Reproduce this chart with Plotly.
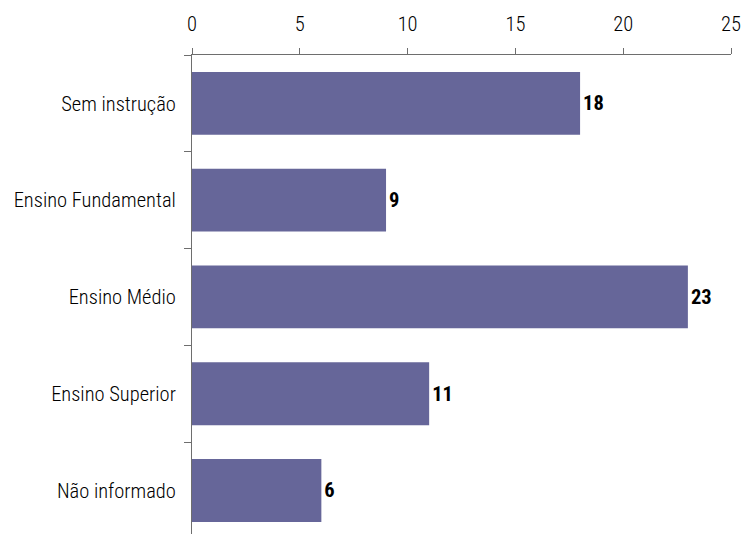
import plotly.graph_objects as go

# Nível de escolaridade
categories = ["Sem instrução", "Ensino Fundamental", "Ensino Médio", "Ensino Superior", "Não informado"]
values = [18, 9, 23, 11, 6]
x_ticks = [0, 5, 10, 15, 20, 25]

FONT = "Roboto Condensed, Archivo Narrow, Liberation Sans, sans-serif"
FONT_SIZE = 20.5
BAR_COLOR = "#666699"
AXIS_COLOR = "#6e6e6e"

fig = go.Figure(
    go.Bar(
        x=values,
        y=categories,
        orientation="h",
        marker=dict(color=BAR_COLOR, line=dict(width=0)),
        text=[f"<b>{v}</b>" for v in values],
        textposition="outside",
        textfont=dict(family=FONT, size=FONT_SIZE, color="#000000"),
        cliponaxis=False,
    )
)

fig.update_layout(
    width=742,
    height=534,
    margin=dict(l=192, r=11, t=55, b=0),
    paper_bgcolor="white",
    plot_bgcolor="white",
    bargap=0.35,
    showlegend=False,
    font=dict(family=FONT, size=FONT_SIZE, color="#000000"),
)

fig.update_xaxes(
    side="top",
    range=[0, 25],
    tickvals=x_ticks,
    ticks="outside",
    ticklen=6,
    tickcolor=AXIS_COLOR,
    ticklabelstandoff=9,
    showline=True,
    linecolor=AXIS_COLOR,
    linewidth=1,
    showgrid=False,
    zeroline=False,
    tickfont=dict(family=FONT, size=FONT_SIZE, weight=300),
)

fig.update_yaxes(
    categoryorder="array",
    categoryarray=categories,
    range=[4.45, -0.5],
    tickson="boundaries",
    ticks="outside",
    ticklen=7,
    tickcolor=AXIS_COLOR,
    ticklabelstandoff=11,
    showline=True,
    linecolor=AXIS_COLOR,
    linewidth=1,
    showgrid=False,
    zeroline=False,
    tickfont=dict(family=FONT, size=FONT_SIZE, weight=300),
)

fig.write_html("out.html")
